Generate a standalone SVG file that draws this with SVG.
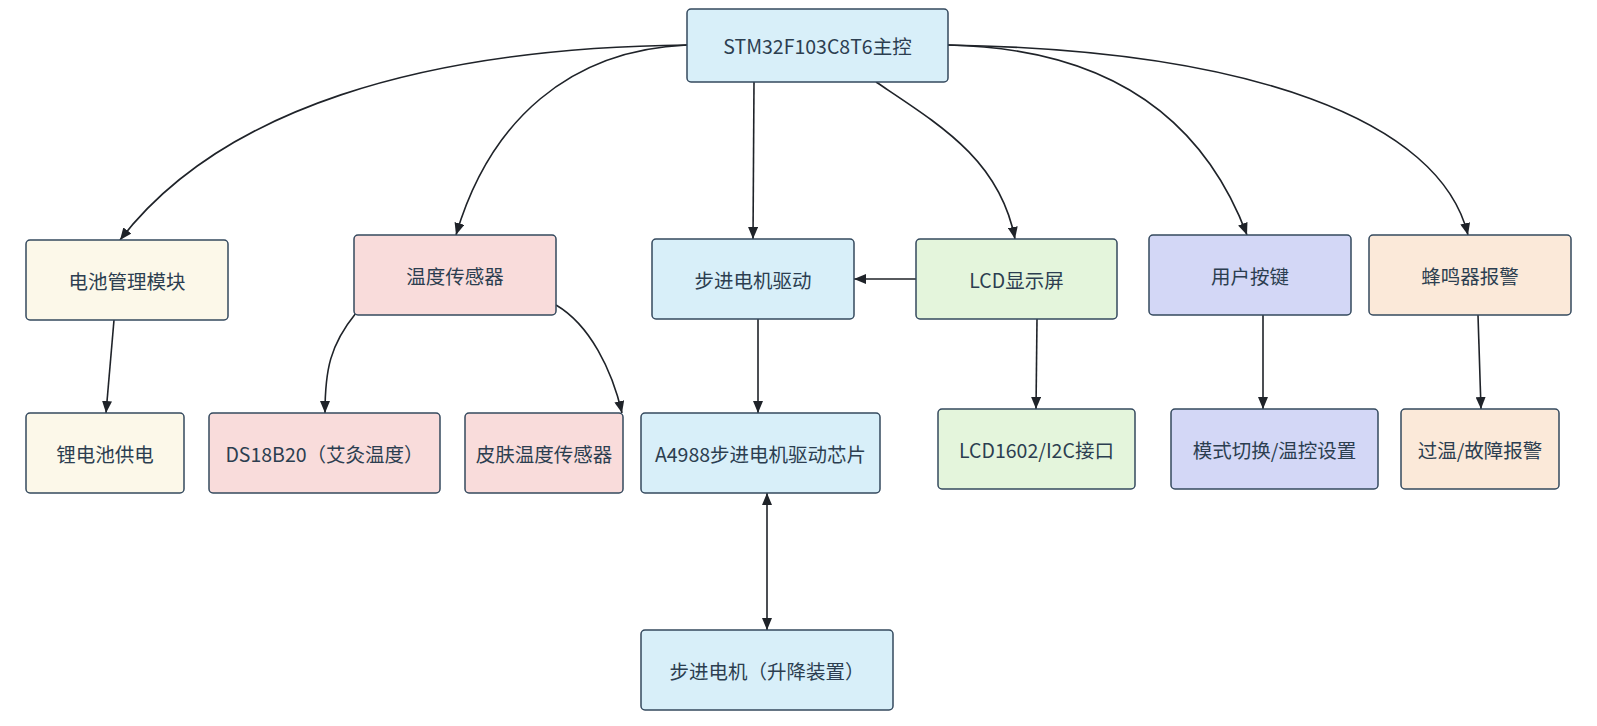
<svg xmlns="http://www.w3.org/2000/svg" width="1597" height="726" viewBox="0 0 1597 726">
<defs>
<marker id="arr" viewBox="0 0 12 10" refX="12" refY="5" markerWidth="12" markerHeight="10" markerUnits="userSpaceOnUse" orient="auto-start-reverse">
<path d="M0,0 L12,5 L0,10 z" fill="#1f2329"/>
</marker>
<style>
.n rect{stroke:#34495e;stroke-width:1.5}
.n text{font-family:"Noto Sans CJK SC","Microsoft YaHei",sans-serif;font-size:19.5px;fill:#2c3e50;text-anchor:middle;dominant-baseline:central}
.blue rect{fill:#d8eff9}
.cream rect{fill:#fcf8e9}
.pink rect{fill:#f9dcdb}
.green rect{fill:#e4f5dc}
.lav rect{fill:#d3d7f6}
.peach rect{fill:#fbe9d9}
#edges path{fill:none;stroke:#1f2329;stroke-width:1.6}
</style>
</defs>
<rect width="1597" height="726" fill="#ffffff"/>
<g id="edges">
<path d="M687,45 C420,48 220,110 120,240" marker-end="url(#arr)"/>
<path d="M687,45 C570,50 490,120 456,235" marker-end="url(#arr)"/>
<path d="M754,82 L753,239" marker-end="url(#arr)"/>
<path d="M876,82 C940,125 1000,160 1015,239" marker-end="url(#arr)"/>
<path d="M948,45 C1100,48 1200,110 1247,235" marker-end="url(#arr)"/>
<path d="M948,45 C1250,50 1440,120 1468,235" marker-end="url(#arr)"/>
<path d="M114,320 L106,413" marker-end="url(#arr)"/>
<path d="M356,313 C330,345 325,370 325,413" marker-end="url(#arr)"/>
<path d="M556,305 C590,325 612,370 622,413" marker-end="url(#arr)"/>
<path d="M916,279 L854,279" marker-end="url(#arr)"/>
<path d="M758,319 L758,413" marker-end="url(#arr)"/>
<path d="M1037,319 L1036,409" marker-end="url(#arr)"/>
<path d="M1263,315 L1263,409" marker-end="url(#arr)"/>
<path d="M1478,315 L1481,409" marker-end="url(#arr)"/>
<path d="M767,493 L767,630" marker-start="url(#arr)" marker-end="url(#arr)"/>
</g>
<g id="stm32" class="n blue"><rect x="687" y="9" width="261" height="73" rx="4"/><text x="817.5" y="45.5">STM32F103C8T6主控</text></g>
<g id="battery" class="n cream"><rect x="26" y="240" width="202" height="80" rx="4"/><text x="127" y="280">电池管理模块</text></g>
<g id="tempsensor" class="n pink"><rect x="354" y="235" width="202" height="80" rx="4"/><text x="455" y="275">温度传感器</text></g>
<g id="stepdrive" class="n blue"><rect x="652" y="239" width="202" height="80" rx="4"/><text x="753" y="279">步进电机驱动</text></g>
<g id="lcd" class="n green"><rect x="916" y="239" width="201" height="80" rx="4"/><text x="1016.5" y="279">LCD显示屏</text></g>
<g id="keys" class="n lav"><rect x="1149" y="235" width="202" height="80" rx="4"/><text x="1250" y="275">用户按键</text></g>
<g id="buzzer" class="n peach"><rect x="1369" y="235" width="202" height="80" rx="4"/><text x="1470" y="275">蜂鸣器报警</text></g>
<g id="liion" class="n cream"><rect x="26" y="413" width="158" height="80" rx="4"/><text x="105" y="453">锂电池供电</text></g>
<g id="ds18b20" class="n pink"><rect x="209" y="413" width="231" height="80" rx="4"/><text x="324.5" y="453">DS18B20（艾灸温度）</text></g>
<g id="skin" class="n pink"><rect x="465" y="413" width="158" height="80" rx="4"/><text x="544" y="453">皮肤温度传感器</text></g>
<g id="a4988" class="n blue"><rect x="641" y="413" width="239" height="80" rx="4"/><text x="760.5" y="453">A4988步进电机驱动芯片</text></g>
<g id="lcd1602" class="n green"><rect x="938" y="409" width="197" height="80" rx="4"/><text x="1036.5" y="449">LCD1602/I2C接口</text></g>
<g id="mode" class="n lav"><rect x="1171" y="409" width="207" height="80" rx="4"/><text x="1274.5" y="449">模式切换/温控设置</text></g>
<g id="alarm" class="n peach"><rect x="1401" y="409" width="158" height="80" rx="4"/><text x="1480" y="449">过温/故障报警</text></g>
<g id="motor" class="n blue"><rect x="641" y="630" width="252" height="80" rx="4"/><text x="767" y="670">步进电机（升降装置）</text></g>
</svg>
